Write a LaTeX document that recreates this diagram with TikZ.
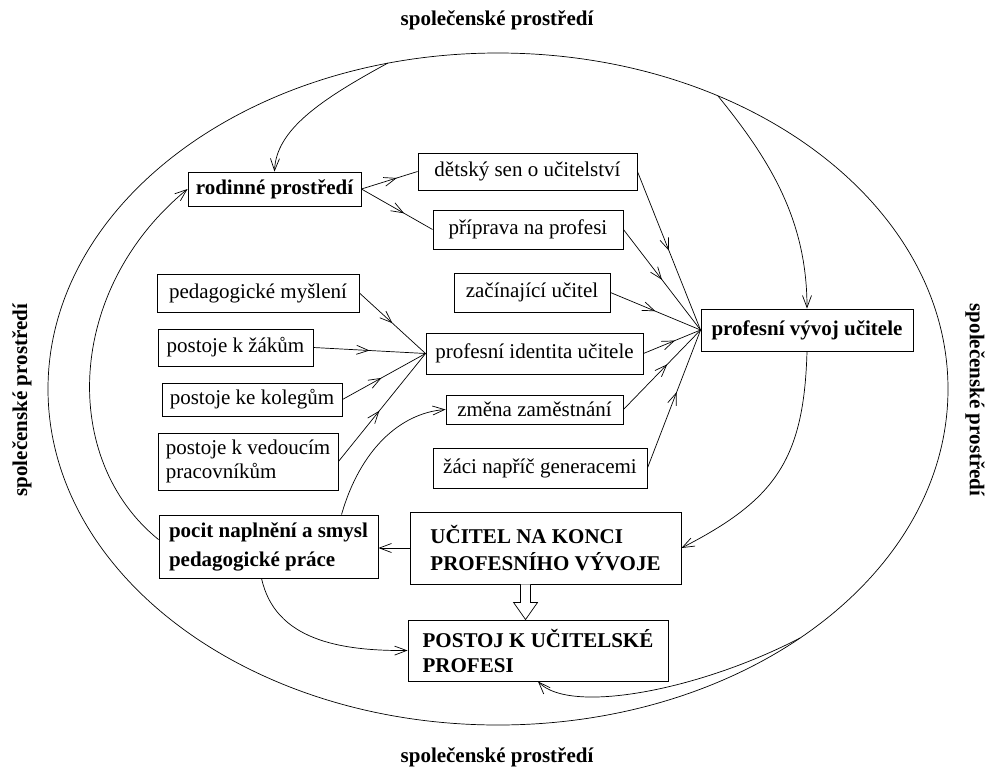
\documentclass[tikz,border=0pt]{standalone}
\usepackage{fontspec}
\setmainfont{Liberation Serif}
\usetikzlibrary{arrows.meta,decorations.markings,calc}
\begin{document}
\begin{tikzpicture}[x=1pt,y=-1pt,
  box/.style={draw, line width=0.9pt, inner sep=0pt, font=\fontsize{21}{27}\selectfont},
  bbox/.style={box, font=\fontsize{21}{27}\selectfont\bfseries},
  lab/.style={inner sep=0pt, font=\fontsize{21}{25}\selectfont\bfseries},
  conn/.style={draw, line width=0.7pt},
  midarr/.style={postaction={decorate, decoration={markings, mark=at position #1 with {\arrow{Straight Barb[length=12pt,width=9pt]}}}}},
  midarr/.default=0.6,
  endarr/.style={-{Straight Barb[length=12pt,width=9pt]}}
]
\useasboundingbox (0,0) rectangle (994,769);

% outer labels
\node[lab] (ltop) at (497,20) {společenské prostředí};
\node[lab] (lbot) at (497,757) {společenské prostředí};
\node[lab, rotate=90] (lleft) at (22,400) {společenské prostředí};
\node[lab, rotate=-90] (lright) at (975,400) {společenské prostředí};

% ellipse
\draw[conn] (498,389) ellipse [x radius=450pt, y radius=336pt];
\coordinate (e1) at (388,63);
\coordinate (e2) at (718,96);
\coordinate (e3) at (800,638);

% boxes
\node[bbox, minimum width=173pt, minimum height=34pt] (rodinne) at (274.5,189) {rodinné prostředí};
\node[box, minimum width=219pt, minimum height=37pt] (detsky) at (527.5,171.5) {dětský sen o učitelství};
\node[box, minimum width=190pt, minimum height=39pt] (priprava) at (528,229.5) {příprava na profesi};
\node[box, minimum width=202pt, minimum height=38pt] (pedag) at (258,293) {pedagogické myšlení};
\node[box, minimum width=155pt, minimum height=37pt] (zakum) at (235.5,347.5) {postoje k žákům};
\node[box, minimum width=180pt, minimum height=33pt] (kolegum) at (252,399.5) {postoje ke kolegům};
\node[box, minimum width=180pt, minimum height=57pt, align=left, font=\fontsize{21}{24}\selectfont] (vedoucim) at (248,461.5) {postoje k vedoucím\\pracovníkům};
\node[box, minimum width=156pt, minimum height=39pt] (zacinajici) at (532,292.5) {začínající učitel};
\node[box, minimum width=217pt, minimum height=41pt] (identita) at (534.5,353.5) {profesní identita učitele};
\node[box, minimum width=177pt, minimum height=29pt] (zmena) at (534.5,409.5) {změna zaměstnání};
\node[box, minimum width=214pt, minimum height=40pt] (zaci) at (540,468) {žáci napříč generacemi};
\node[bbox, minimum width=212pt, minimum height=42pt] (vyvoj) at (807,330) {profesní vývoj učitele};
\node[bbox, minimum width=219pt, minimum height=63pt, align=left, font=\fontsize{21}{29}\selectfont\bfseries] (pocit) at (268.5,546.5) {pocit naplnění a smysl\\pedagogické práce};
\node[bbox, minimum width=271pt, minimum height=72pt, align=left] (ucitel) at (545.5,548) {UČITEL NA KONCI\\PROFESNÍHO VÝVOJE};
\node[bbox, minimum width=260pt, minimum height=61pt, align=left, font=\fontsize{21}{25}\selectfont\bfseries] (postoj) at (538,650.5) {POSTOJ K UČITELSKÉ\\PROFESI};

% straight connectors with mid arrows
\draw[conn, midarr=0.63] (rodinne.east) -- (detsky.west);
\draw[conn, midarr=0.6] (rodinne.east) -- (priprava.west);

\draw[conn, midarr=0.5] (pedag.east) -- (identita.west);
\draw[conn, midarr=0.5] (zakum.east) -- (identita.west);
\draw[conn, midarr=0.47] (kolegum.east) -- (identita.west);
\draw[conn, midarr=0.47] (vedoucim.east) -- (identita.west);

\draw[conn, midarr=0.5] (detsky.east) -- (vyvoj.west);
\draw[conn, midarr=0.5] (priprava.east) -- (vyvoj.west);
\draw[conn, midarr=0.5] (zacinajici.east) -- (vyvoj.west);
\draw[conn, midarr=0.55] (identita.east) -- (vyvoj.west);
\draw[conn, midarr=0.57] (zmena.east) -- (vyvoj.west);
\draw[conn, midarr=0.55] (zaci.east) -- (vyvoj.west);

% curved connectors
\draw[conn, endarr] (e1) .. controls (320,100) and (276,130) .. (rodinne.north);
\draw[conn, endarr] (e2) .. controls (770,160) and (807,220) .. (vyvoj.north);
\draw[conn, endarr] ($(pocit.north west)+(0,25)$) .. controls (60,460) and (65,290) .. (rodinne.west);
\draw[conn, endarr] ($(pocit.south west)+(103,0)$) .. controls (275,640) and (340,651) .. (postoj.west);
\draw[conn, endarr] ($(pocit.north west)+(183,0)$) .. controls (360,450) and (400,413) .. (zmena.west);
\draw[conn, endarr] (vyvoj.south) .. controls (804,460) and (775,500) .. (ucitel.east);
\draw[conn, endarr] (e3) .. controls (700,690) and (570,715) .. (postoj.south);
\draw[conn, endarr] (ucitel.west) -- (ucitel.west -| pocit.east);

% hollow arrow
\coordinate (ha) at ($(ucitel.south west)+(116,0)$);
\draw[conn, fill=white] ($(ha)+(-5,0)$) -- ($(ha)+(-5,18)$) -- ($(ha)+(-12,18)$) -- (ha |- postoj.north) -- ($(ha)+(12,18)$) -- ($(ha)+(5,18)$) -- ($(ha)+(5,0)$);
\end{tikzpicture}
\end{document}
